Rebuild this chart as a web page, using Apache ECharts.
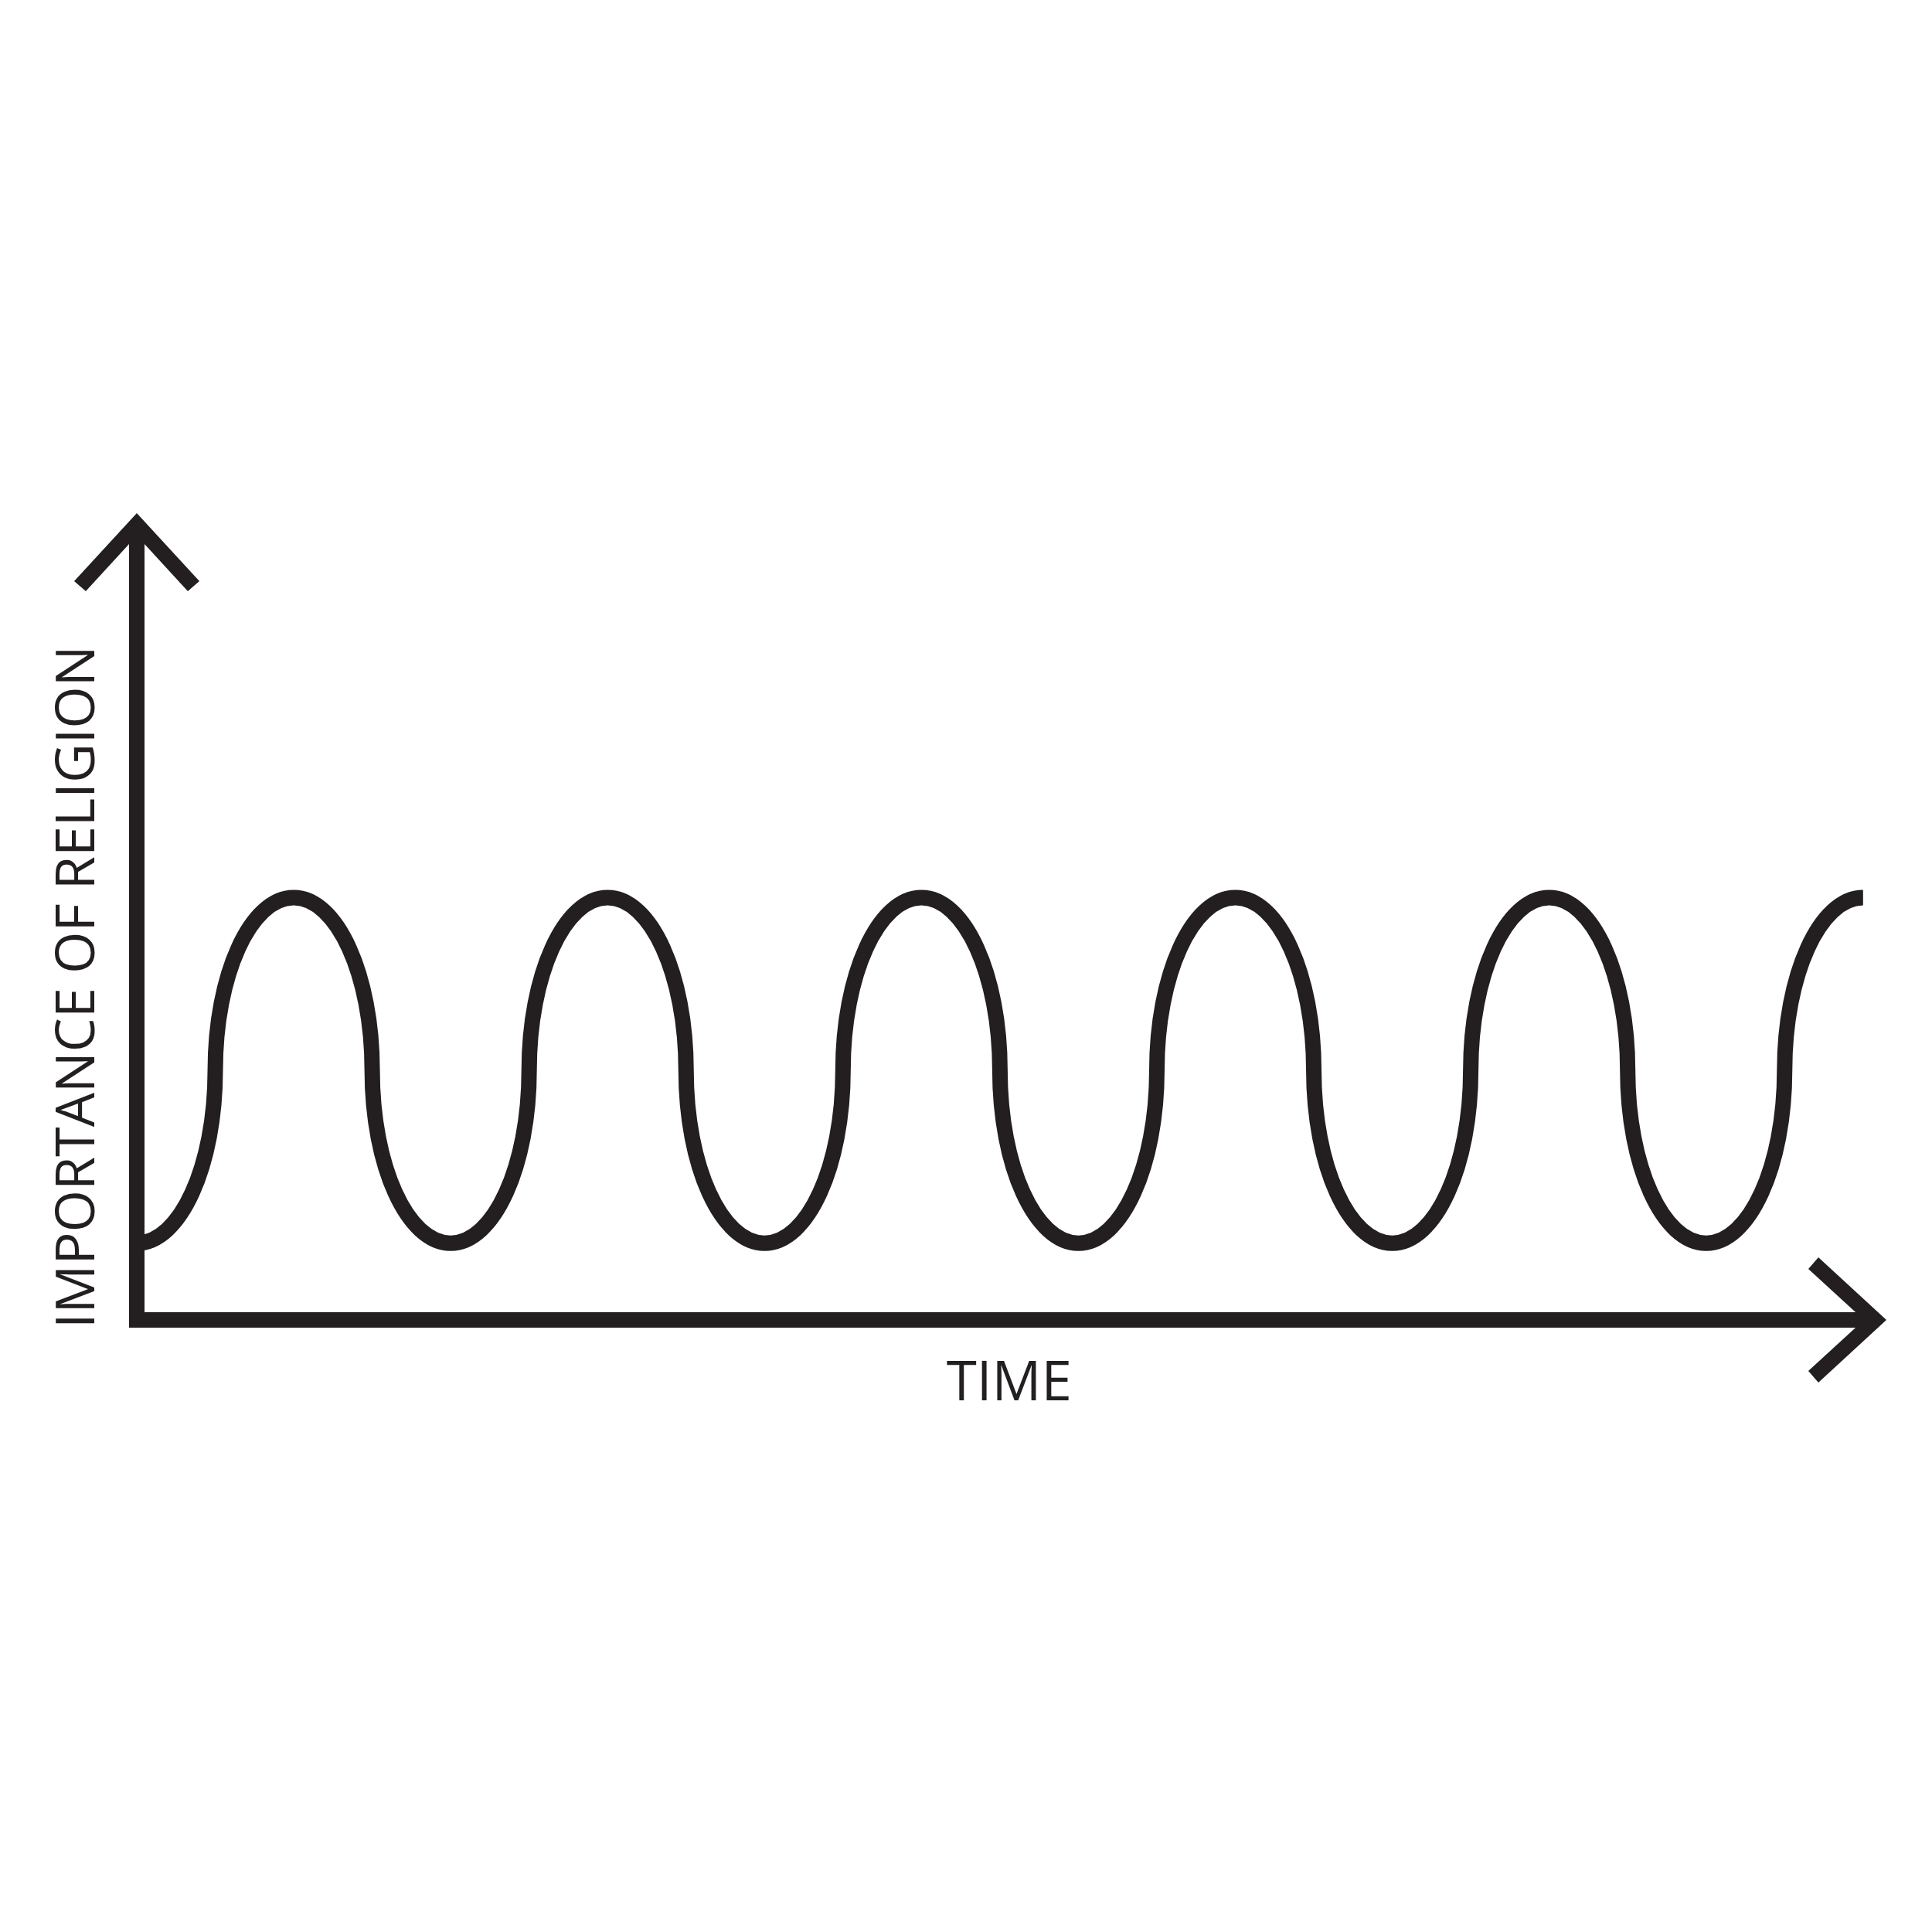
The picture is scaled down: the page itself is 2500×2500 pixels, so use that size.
<!DOCTYPE html>
<html><head><meta charset="utf-8">
<script src="https://cdn.jsdelivr.net/npm/echarts@6/dist/echarts.min.js"></script>
<style>html,body{margin:0;padding:0;background:#fff}#chart{width:2500px;height:2500px}</style>
</head><body><div id="chart"></div>
<script>
// Turning points of the wave (time units, importance 0-100)
const turnTime = [0, 1, 2, 3, 4, 5, 6, 7, 8, 9, 10, 11];
const turnImportance = [10, 55, 10, 55, 10, 55, 10, 55, 10, 55, 10, 55];
const xAxisName = 'TIME';
const yAxisName = 'IMPORTANCE OF RELIGION';

const INK = '#231f20';
const K = 0.5523; // bezier quarter-ellipse constant
// open chevron arrowhead with a short stem so the axis line joins it
const chevron = 'path://M81 0 L162 88 L147 101 L91 39.9 L91 101 L71 101 L71 39.9 L15 101 L0 88 Z';

function renderWave(params, api) {
  if (params.dataIndex !== 0) return null;
  const pts = turnTime.map((t, i) => api.coord([t, turnImportance[i]]));
  let d = 'M' + pts[0][0] + ' ' + pts[0][1];
  for (let i = 1; i < pts.length; i++) {
    const x0 = pts[i - 1][0], y0 = pts[i - 1][1], x1 = pts[i][0], y1 = pts[i][1];
    const xm = (x0 + x1) / 2, ym = (y0 + y1) / 2;
    d += ' C' + (x0 + K * (xm - x0)) + ' ' + y0 + ' ' + xm + ' ' + (ym + K * (y0 - ym)) + ' ' + xm + ' ' + ym;
    d += ' C' + xm + ' ' + (ym + K * (y1 - ym)) + ' ' + (x1 - K * (x1 - xm)) + ' ' + y1 + ' ' + x1 + ' ' + y1;
  }
  return {
    type: 'path',
    shape: { pathData: d },
    style: { fill: 'none', stroke: INK, lineWidth: 20, lineCap: 'butt', lineJoin: 'round' }
  };
}

const axisLineStyle = { color: INK, width: 20, cap: 'square' };

const chart = echarts.init(document.getElementById('chart'));
chart.setOption({
  animation: false,
  backgroundColor: '#ffffff',
  grid: { left: 177, right: 109.5, top: 714.5, bottom: 792, outerBoundsMode: 'none', containLabel: false },
  xAxis: {
    type: 'value', min: 0, max: 10.9,
    axisLine: { show: true, onZero: false, symbol: ['none', chevron], symbolSize: [162, 101], lineStyle: axisLineStyle },
    axisTick: { show: false }, axisLabel: { show: false }, splitLine: { show: false },
    name: xAxisName, nameLocation: 'middle', nameGap: 48,
    nameTextStyle: { fontFamily: 'Open Sans', fontSize: 71, color: INK, padding: [0, 0, 0, 44] }
  },
  yAxis: {
    type: 'value', min: 0, max: 100,
    axisLine: { show: true, onZero: false, symbol: ['none', chevron], symbolSize: [162, 101], lineStyle: axisLineStyle },
    axisTick: { show: false }, axisLabel: { show: false }, splitLine: { show: false },
    name: yAxisName, nameLocation: 'middle', nameGap: 40, nameRotate: 90,
    nameTextStyle: { fontFamily: 'Open Sans', fontSize: 70, color: INK, padding: [0, 132, 0, 0] }
  },
  series: [{
    type: 'custom',
    coordinateSystem: 'cartesian2d',
    clip: false,
    silent: true,
    data: turnTime.map((t, i) => [t, turnImportance[i]]),
    renderItem: renderWave
  }]
});
</script>
</body></html>
